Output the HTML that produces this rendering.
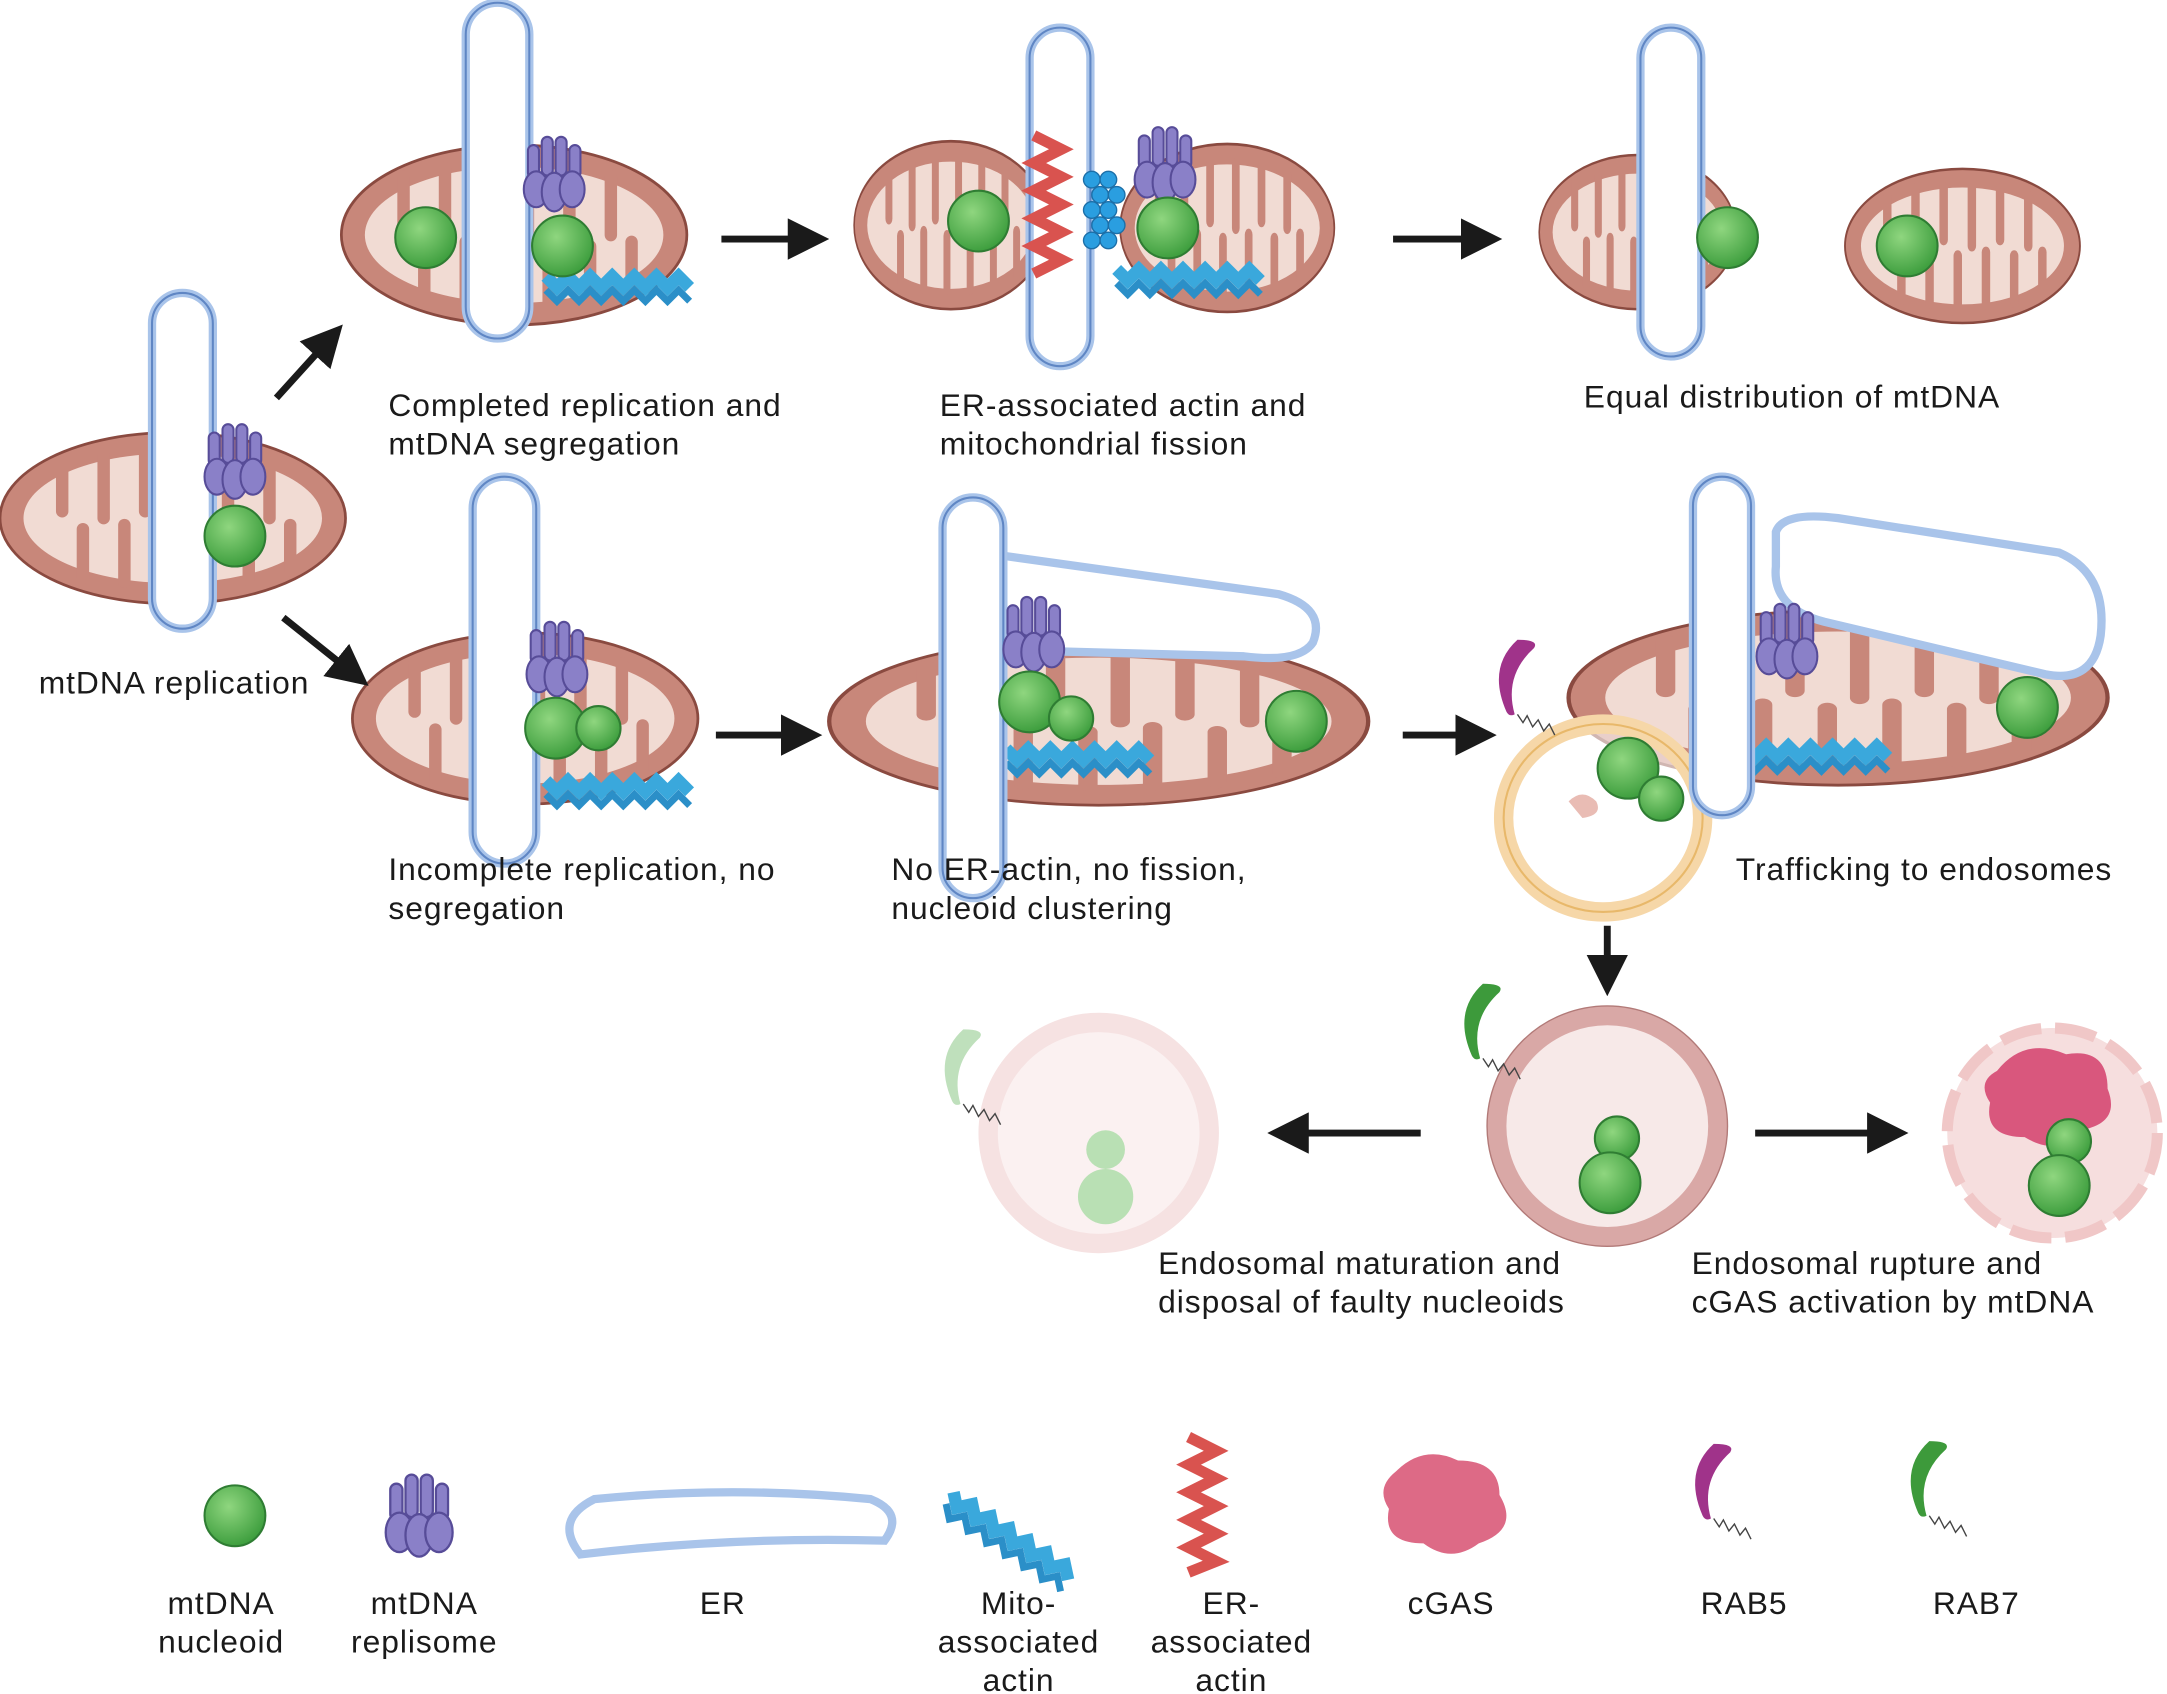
<!DOCTYPE html>
<html><head><meta charset="utf-8"><style>
html,body{margin:0;padding:0;background:#fff;}
svg{display:block;}
text{font-family:"Liberation Sans",sans-serif;font-size:23px;letter-spacing:0.7px;fill:#1a1a1a;}
</style></head><body>
<svg width="2167" height="1694" viewBox="0 0 1568 1226" preserveAspectRatio="none" xmlns="http://www.w3.org/2000/svg">
<defs>
<radialGradient id="ng" cx="40%" cy="35%" r="65%"><stop offset="0" stop-color="#8fd67f"/><stop offset="1" stop-color="#3f9f3f"/></radialGradient>
<marker id="ah" markerWidth="6" markerHeight="6" refX="3" refY="3" orient="auto" markerUnits="strokeWidth"><path d="M0,0 L6,3 L0,6 z" fill="#1a1a1a"/></marker>
<g id="mito">
<ellipse rx="125" ry="62" fill="#c8877a" stroke="#8a4a40" stroke-width="2"/>
<ellipse rx="108" ry="47" fill="#f1dbd3"/>
<g stroke="#c8877a" stroke-width="9" stroke-linecap="round">
<line x1="-80" y1="-40" x2="-80" y2="-5"/><line x1="-50" y1="-46" x2="-50" y2="0"/><line x1="-20" y1="-47" x2="-20" y2="-5"/><line x1="10" y1="-47" x2="10" y2="0"/><line x1="40" y1="-46" x2="40" y2="-5"/><line x1="70" y1="-40" x2="70" y2="0"/>
<line x1="-65" y1="43" x2="-65" y2="8"/><line x1="-35" y1="46" x2="-35" y2="5"/><line x1="-5" y1="47" x2="-5" y2="8"/><line x1="25" y1="47" x2="25" y2="5"/><line x1="55" y1="45" x2="55" y2="8"/><line x1="85" y1="38" x2="85" y2="5"/>
</g></g>
<g id="rep">
<g fill="#8a80c8" stroke="#574c98" stroke-width="1.5">
<rect x="-16" y="-22" width="8" height="24" rx="4"/><rect x="-6" y="-28" width="8" height="28" rx="4"/><rect x="4" y="-28" width="8" height="28" rx="4"/><rect x="14" y="-22" width="8" height="24" rx="4"/>
<ellipse cx="-10" cy="10" rx="9" ry="13"/><ellipse cx="3" cy="12" rx="9" ry="14"/><ellipse cx="16" cy="10" rx="9" ry="13"/>
</g></g>
<g id="actb"><polyline points="0,0 8,8 16,0 24,8 32,0 40,8 48,0 56,8 64,0 72,8 80,0 88,8 96,0 104,8" fill="none" stroke="#3aa8dc" stroke-width="9"/><polyline points="0,10 8,18 16,10 24,18 32,10 40,18 48,10 56,18 64,10 72,18 80,10 88,18 96,10 104,18" fill="none" stroke="#2b8fc8" stroke-width="5"/></g>
<g id="rab"><path d="M0,0 q-22,20 -8,52 q2,4 6,2 q-8,-28 14,-48 q4,-6 -12,-6 z"/><polyline points="0,54 4,60 7,55 11,63 15,58 19,66 23,61 27,69" fill="none" stroke="#444" stroke-width="1"/></g>
</defs>

<use href="#mito" transform="translate(125,375)"/>
<rect x="110" y="212" width="44" height="243" rx="22" fill="#fff" stroke="#a9c4ea" stroke-width="6"/><rect x="110" y="212" width="44" height="243" rx="22" fill="none" stroke="#5f86c4" stroke-width="1.5"/>
<use href="#rep" transform="translate(167,335)"/>
<circle cx="170" cy="388" r="22" fill="url(#ng)" stroke="#2f7d33" stroke-width="1.5"/>
<text x="28" y="502">mtDNA replication</text>

<use href="#mito" transform="translate(372,170) scale(1.0,1.05)"/>
<use href="#actb" transform="translate(395,200)"/>
<rect x="337" y="2" width="46" height="243" rx="23" fill="#fff" stroke="#a9c4ea" stroke-width="6"/><rect x="337" y="2" width="46" height="243" rx="23" fill="none" stroke="#5f86c4" stroke-width="1.5"/>
<use href="#rep" transform="translate(398,127)"/>
<circle cx="308" cy="172" r="22" fill="url(#ng)" stroke="#2f7d33" stroke-width="1.5"/>
<circle cx="407" cy="178" r="22" fill="url(#ng)" stroke="#2f7d33" stroke-width="1.5"/>
<text x="281" y="301">Completed replication and</text><text x="281" y="329">mtDNA segregation</text>

<use href="#mito" transform="translate(688,163) scale(0.56,0.98)"/>
<use href="#mito" transform="translate(888,165) scale(0.62,0.98)"/>
<use href="#actb" transform="translate(808,195)"/>
<rect x="745" y="20" width="44" height="245" rx="22" fill="#fff" stroke="#a9c4ea" stroke-width="6"/><rect x="745" y="20" width="44" height="245" rx="22" fill="none" stroke="#5f86c4" stroke-width="1.5"/>
<polyline points="748,98 768,108 748,118 768,128 748,138 768,148 748,158 768,168 748,178 768,188 748,198" fill="none" stroke="#d9534f" stroke-width="8"/>
<g fill="#2a9ee0" stroke="#1c6fa8" stroke-width="1"><circle cx="790" cy="130" r="6"/><circle cx="802" cy="130" r="6"/><circle cx="796" cy="141" r="6"/><circle cx="808" cy="141" r="6"/><circle cx="790" cy="152" r="6"/><circle cx="802" cy="152" r="6"/><circle cx="796" cy="163" r="6"/><circle cx="808" cy="163" r="6"/><circle cx="790" cy="174" r="6"/><circle cx="802" cy="174" r="6"/></g>
<use href="#rep" transform="translate(840,120)"/>
<circle cx="708" cy="160" r="22" fill="url(#ng)" stroke="#2f7d33" stroke-width="1.5"/>
<circle cx="845" cy="165" r="22" fill="url(#ng)" stroke="#2f7d33" stroke-width="1.5"/>
<text x="680" y="301">ER-associated actin and</text><text x="680" y="329">mitochondrial fission</text>

<use href="#mito" transform="translate(1185,168) scale(0.57,0.9)"/>
<use href="#mito" transform="translate(1420,178) scale(0.68,0.9)"/>
<rect x="1187" y="20" width="44" height="238" rx="22" fill="#fff" stroke="#a9c4ea" stroke-width="6"/><rect x="1187" y="20" width="44" height="238" rx="22" fill="none" stroke="#5f86c4" stroke-width="1.5"/>
<circle cx="1250" cy="172" r="22" fill="url(#ng)" stroke="#2f7d33" stroke-width="1.5"/>
<circle cx="1380" cy="178" r="22" fill="url(#ng)" stroke="#2f7d33" stroke-width="1.5"/>
<text x="1146" y="295">Equal distribution of mtDNA</text>

<use href="#mito" transform="translate(380,520)"/>
<use href="#actb" transform="translate(395,565)"/>
<rect x="342" y="345" width="46" height="280" rx="23" fill="#fff" stroke="#a9c4ea" stroke-width="6"/><rect x="342" y="345" width="46" height="280" rx="23" fill="none" stroke="#5f86c4" stroke-width="1.5"/>
<use href="#rep" transform="translate(400,478)"/>
<circle cx="402" cy="527" r="22" fill="url(#ng)" stroke="#2f7d33" stroke-width="1.5"/>
<circle cx="433" cy="527" r="16" fill="url(#ng)" stroke="#2f7d33" stroke-width="1.5"/>
<text x="281" y="637">Incomplete replication, no</text><text x="281" y="665">segregation</text>

<use href="#mito" transform="translate(795,522) scale(1.56,0.98)"/>
<use href="#actb" transform="translate(728,542)"/>
<path d="M710,400 L925,430 Q960,440 950,465 Q940,480 900,475 L710,470" fill="#fff" stroke="#a9c4ea" stroke-width="6"/>
<rect x="682" y="360" width="44" height="290" rx="22" fill="#fff" stroke="#a9c4ea" stroke-width="6"/><rect x="682" y="360" width="44" height="290" rx="22" fill="none" stroke="#5f86c4" stroke-width="1.5"/>
<use href="#rep" transform="translate(745,460)"/>
<circle cx="745" cy="508" r="22" fill="url(#ng)" stroke="#2f7d33" stroke-width="1.5"/>
<circle cx="775" cy="520" r="16" fill="url(#ng)" stroke="#2f7d33" stroke-width="1.5"/>
<circle cx="938" cy="522" r="22" fill="url(#ng)" stroke="#2f7d33" stroke-width="1.5"/>
<text x="645" y="637">No ER-actin, no fission,</text><text x="645" y="665">nucleoid clustering</text>

<use href="#mito" transform="translate(1330,505) scale(1.56,1.02)"/>
<use href="#actb" transform="translate(1262,540)"/>
<path d="M1285,385 Q1290,370 1330,375 L1490,400 Q1525,415 1520,460 Q1515,495 1480,488 L1320,450 Q1282,440 1285,410 Z" fill="#fff" stroke="#a9c4ea" stroke-width="6"/>
<ellipse cx="1160" cy="592" rx="72" ry="68" fill="#fff" fill-opacity="0.6" stroke="#f6d7a8" stroke-width="14"/>
<ellipse cx="1160" cy="592" rx="72" ry="68" fill="none" stroke="#e8b86a" stroke-width="1.5"/>
<path d="M1135,580 q10,-10 20,0 q5,10 -10,12 z" fill="#e9bcb4"/>
<rect x="1225" y="345" width="42" height="245" rx="21" fill="#fff" stroke="#a9c4ea" stroke-width="6"/><rect x="1225" y="345" width="42" height="245" rx="21" fill="none" stroke="#5f86c4" stroke-width="1.5"/>
<use href="#rep" transform="translate(1290,465)"/>
<circle cx="1467" cy="512" r="22" fill="url(#ng)" stroke="#2f7d33" stroke-width="1.5"/>
<circle cx="1178" cy="556" r="22" fill="url(#ng)" stroke="#2f7d33" stroke-width="1.5"/>
<circle cx="1202" cy="578" r="16" fill="url(#ng)" stroke="#2f7d33" stroke-width="1.5"/>
<use href="#rab" fill="#a0338a" transform="translate(1098,463)"/>
<text x="1256" y="637">Trafficking to endosomes</text>

<circle cx="795" cy="820" r="80" fill="#fbf1f1" stroke="#f6e2e2" stroke-width="14"/>
<circle cx="800" cy="832" r="14" fill="#b9e0b4"/><circle cx="800" cy="866" r="20" fill="#b9e0b4"/>
<use href="#rab" fill="#bfe0bc" transform="translate(697,745)"/>
<circle cx="1163" cy="815" r="80" fill="#f7e9e8" stroke="#d9a8a6" stroke-width="14"/>
<circle cx="1163" cy="815" r="87" fill="none" stroke="#b27a78" stroke-width="1"/>
<circle cx="1170" cy="824" r="16" fill="url(#ng)" stroke="#2f7d33" stroke-width="1.5"/>
<circle cx="1165" cy="856" r="22" fill="url(#ng)" stroke="#2f7d33" stroke-width="1.5"/>
<use href="#rab" fill="#3d9a3b" transform="translate(1073,712)"/>
<circle cx="1485" cy="820" r="76" fill="#f6dede" stroke="#f0c7c7" stroke-width="8" stroke-dasharray="30,10"/>
<path d="M1445,775 q20,-25 50,-12 q30,-5 30,25 q10,25 -20,30 q-15,20 -40,5 q-30,0 -25,-25 q-10,-15 5,-23 z" fill="#d9577d"/>
<circle cx="1497" cy="826" r="16" fill="url(#ng)" stroke="#2f7d33" stroke-width="1.5"/>
<circle cx="1490" cy="858" r="22" fill="url(#ng)" stroke="#2f7d33" stroke-width="1.5"/>
<text x="838" y="922">Endosomal maturation and</text><text x="838" y="950">disposal of faulty nucleoids</text>
<text x="1224" y="922">Endosomal rupture and</text><text x="1224" y="950">cGAS activation by mtDNA</text>

<g stroke="#1a1a1a" stroke-width="5" marker-end="url(#ah)">
<line x1="522" y1="173" x2="585" y2="173"/><line x1="1008" y1="173" x2="1072" y2="173"/>
<line x1="200" y1="288" x2="238" y2="246"/><line x1="205" y1="447" x2="255" y2="487"/>
<line x1="518" y1="532" x2="580" y2="532"/><line x1="1015" y1="532" x2="1068" y2="532"/>
<line x1="1163" y1="670" x2="1163" y2="706"/><line x1="1028" y1="820" x2="932" y2="820"/>
<line x1="1270" y1="820" x2="1366" y2="820"/>
</g>

<circle cx="170" cy="1097" r="22" fill="url(#ng)" stroke="#2f7d33" stroke-width="1.5"/>
<use href="#rep" transform="translate(300,1098) scale(1.1)"/>
<path d="M430,1085 Q530,1075 630,1085 Q655,1095 640,1115 Q530,1112 420,1125 Q400,1100 430,1085 Z" fill="#fff" stroke="#a9c4ea" stroke-width="6"/>
<g transform="translate(690,1080) rotate(33)"><use href="#actb"/></g>
<polyline points="860,1040 880,1050 860,1060 880,1070 860,1080 880,1090 860,1100 880,1110 860,1120 880,1130 860,1138" fill="none" stroke="#d9534f" stroke-width="8"/>
<path d="M1010,1065 q20,-20 45,-8 q30,0 30,25 q15,25 -15,35 q-20,15 -40,0 q-30,0 -25,-25 q-10,-15 5,-27 z" fill="#dd6a86"/>
<use href="#rab" fill="#a0338a" transform="translate(1240,1045)"/>
<use href="#rab" fill="#3d9a3b" transform="translate(1396,1043)"/>
<g text-anchor="middle">
<text x="160" y="1168">mtDNA</text><text x="160" y="1196">nucleoid</text>
<text x="307" y="1168">mtDNA</text><text x="307" y="1196">replisome</text>
<text x="523" y="1168">ER</text>
<text x="737" y="1168">Mito-</text><text x="737" y="1196">associated</text><text x="737" y="1224">actin</text>
<text x="891" y="1168">ER-</text><text x="891" y="1196">associated</text><text x="891" y="1224">actin</text>
<text x="1050" y="1168">cGAS</text>
<text x="1262" y="1168">RAB5</text>
<text x="1430" y="1168">RAB7</text>
</g>
</svg>
</body></html>
